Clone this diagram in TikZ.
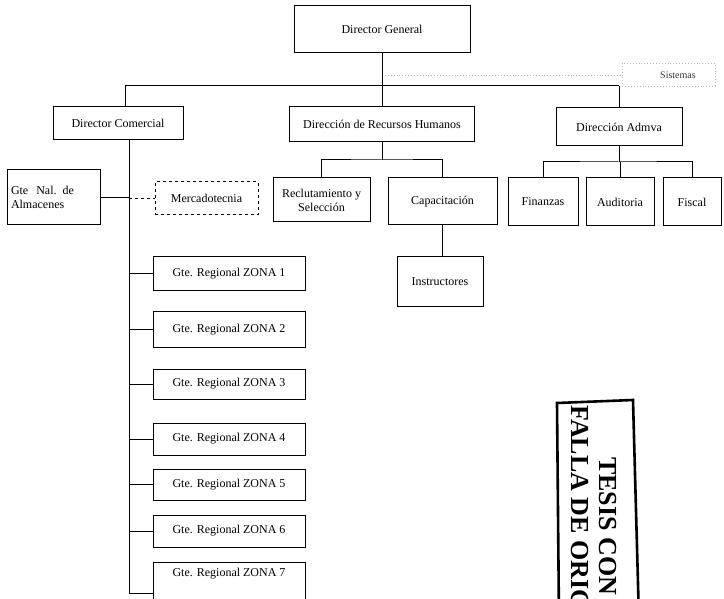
\documentclass[tikz,border=0pt]{standalone}
\usepackage{fontspec}
\setmainfont{Liberation Serif}
\begin{document}
\begin{tikzpicture}[x=1pt,y=-1pt,
  box/.style={draw,line width=1pt,inner sep=1pt,font=\fontsize{12}{14}\selectfont,align=center},
  dbox/.style={box,dashed},
  conn/.style={line width=1pt},
  faint/.style={draw=gray!55,dotted,line width=0.9pt},
  stampfont/.style={font=\fontsize{26}{26}\selectfont\bfseries}]
\clip (0,0) rectangle (724,599);
\fill[white] (0,0) rectangle (724,599);

% top level
\node[box,minimum width=176pt,minimum height=47pt] (dg) at (382,29.5) {Director General};
\node[box,minimum width=130pt,minimum height=33pt] (dc) at (118,123.5) {Director Comercial};
\node[box,minimum width=185pt,minimum height=35pt] (drh) at (382,124.5) {Dirección de Recursos Humanos};
\node[box,minimum width=126pt,minimum height=38pt] (da) at (619,127) {Dirección Admva};

% Sistemas (faint)
\node[font=\fontsize{10}{11}\selectfont,text=black!80] (sis) at (678,75) {Sistemas};
\coordinate (sj) at (382,75);
\draw[faint] (622,63) rectangle (715,86);
\draw[faint] (sj) -- (622,75);

% main bar
\coordinate (h1) at (125,86);
\coordinate (h2) at (619,86);
\draw[conn] (dg.south) -- (dg.south |- drh.north);
\draw[conn] (h1) -- (h2);
\draw[conn] (h1) -- (h1 |- dc.north);
\draw[conn] (h2) -- (da.north);

% Comercial branch
\coordinate (tt) at (129,140);
\coordinate (tb) at (129,593);
\draw[conn] (tt) -- (tb);
\node[box,minimum width=93pt,minimum height=55pt,align=left,text width=85pt] (gna) at (53.5,197.5) {Gte\ \ Nal. de\\Almacenes};
\draw[conn] (gna.east) -- (gna.east -| tt);
\node[dbox,minimum width=103pt,minimum height=33pt] (merc) at (206.5,198.5) {Mercadotecnia};
\draw[conn,dashed] (merc.west -| tt) -- (merc.west);

\foreach \i/\y/\h in {1/274/34,2/329.5/35,3/384/30,4/439/32,5/484.5/31,6/531/32}{
  \node[box,minimum width=152pt,minimum height=\h pt] (z\i) at (229,\y) {Gte. Regional ZONA \i};
  \draw[conn] (z\i.west) -- (z\i.west -| tt);
}
\node[box,minimum width=152pt,minimum height=40pt] (z7) at (229,582) {Gte. Regional ZONA 7\\[6pt]};
\draw[conn] (tb) -- (tb -| z7.west);

% RRHH branch
\node[box,minimum width=97pt,minimum height=44pt] (rec) at (321.5,200) {Reclutamiento y\\Selección};
\node[box,minimum width=109pt,minimum height=47pt] (cap) at (442.5,201.5) {Capacitación};
\node[box,minimum width=86pt,minimum height=50pt] (ins) at (440,282) {Instructores};
\coordinate (rb) at (382,160);
\draw[conn] (drh.south) -- (rb);
\draw[conn] (rec.north) |- (rb) -| (cap.north);
\draw[conn] (cap.south) -- (cap.south |- ins.north);

% Admva branch
\node[box,minimum width=70pt,minimum height=48pt] (fin) at (543,202) {Finanzas};
\node[box,minimum width=68pt,minimum height=48pt] (aud) at (620,202) {Auditoria};
\node[box,minimum width=58pt,minimum height=48pt] (fis) at (692,202) {Fiscal};
\coordinate (ab) at (619,162);
\draw[conn] (da.south) -- (ab);
\draw[conn] (fin.north) |- (ab) -| (fis.north);
\draw[conn] (aud.north) -- (aud.north |- ab);

% stamp
\draw[line width=2.6pt] (559,620) -- (557,403) -- (633,400) -- (639,620);
\node[stampfont,rotate=-90,anchor=base west,inner sep=0pt] (st1) at (599,457) {TESIS CON};
\node[stampfont,rotate=-90,anchor=base west,inner sep=0pt] (st2) at (571,405) {FALLA DE ORIGEN};
\end{tikzpicture}
\end{document}
